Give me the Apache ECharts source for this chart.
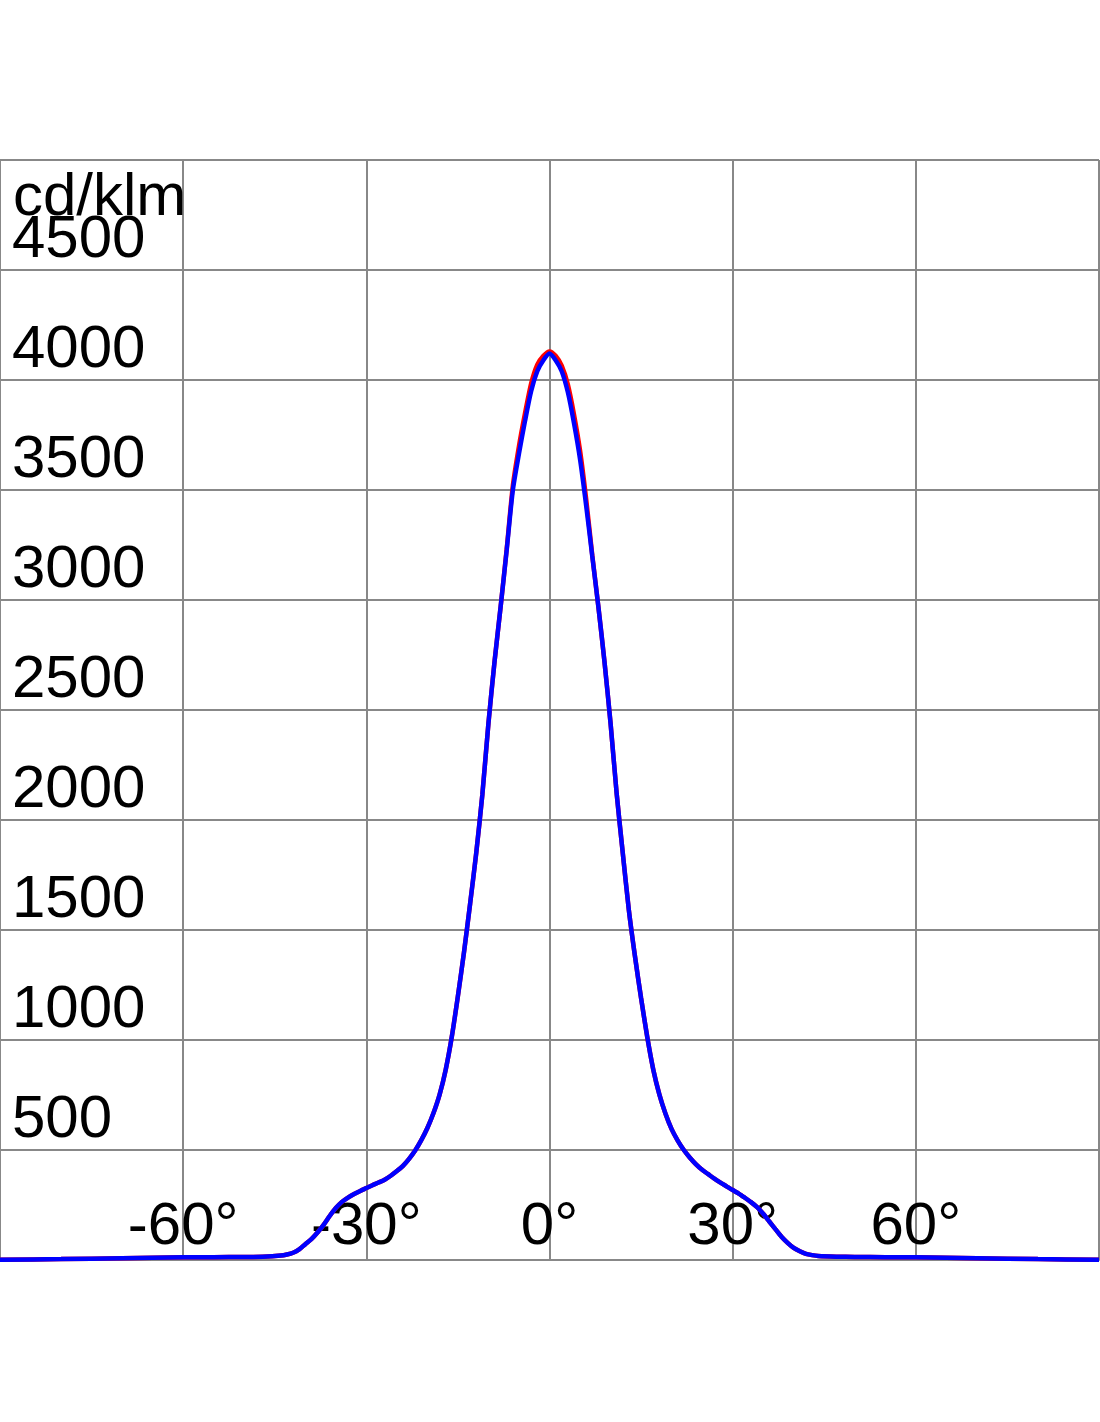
<!DOCTYPE html>
<html>
<head>
<meta charset="utf-8">
<style>
  html, body { margin: 0; padding: 0; background: #fff; }
  #chart { width: 1100px; height: 1422px; }
</style>
<script src="https://cdn.jsdelivr.net/npm/echarts@6/dist/echarts.min.js"></script>
</head>
<body>
<div id="chart"></div>
<script>
// Angles (degrees)
const angles = [-90,-80,-70,-60,-55,-50,-47,
  -44,-43,-42,-41,-40,-39,-38,-37,-36,-35,-34,-33,-32,-31,-30,-29,-28,-27,-26,-25,
  -24,-23,-22,-21,-20,-19,-18,-17,-16,-15,-14,-13,-12,-11,-10,-9,-8,-7,-6,-5,-4,-3,-2,-1,
  0,1,2,3,4,5,6,7,8,9,10,11,12,13,14,15,16,17,18,19,20,21,22,23,24,
  25,26,27,28,29,30,31,32,33,34,35,36,37,38,39,40,41,42,43,44,
  47,50,55,60,70,80,90];

// Blue curve (cd/klm)
const blueValues = [1,4,8,12,13,14,15,
  20,25,33,48,72,95,125,160,200,236,264,284,300,314,327,340,352,365,383,404,
  428,460,498,545,600,668,752,865,1015,1200,1400,1620,1850,2115,2440,2720,2970,3230,3500,3665,3815,3950,4040,4090,
  4120,4090,4040,3945,3805,3640,3430,3200,2970,2720,2440,2120,1850,1590,1380,1190,1015,865,752,665,595,543,500,465,435,
  410,390,370,352,335,318,302,283,263,240,210,175,140,106,78,55,40,28,22,18,
  15,14,13,12,8,4,1];

// Red curve (cd/klm)
const redValues = [1,4,8,12,13,14,15,
  20,25,33,48,72,95,125,160,200,236,264,284,300,314,327,340,352,365,383,404,
  428,460,498,545,600,668,752,865,1015,1200,1400,1620,1850,2115,2440,2720,2970,3235,3520,3700,3850,3985,4070,4110,
  4130,4110,4065,3980,3845,3680,3460,3205,2970,2720,2440,2120,1850,1590,1380,1190,1015,865,752,665,595,543,500,465,435,
  410,390,370,352,335,318,302,283,263,240,210,175,140,106,78,55,40,28,22,18,
  15,14,13,12,8,4,1];

const xTicks = { min: -90, max: 90, interval: 30 };
const yTicks = { min: 0, max: 5000, interval: 500 };
const unitLabel = 'cd/klm';

const toPairs = vals => angles.map((a, i) => [a, vals[i]]);

const font = "'Liberation Sans', Arial, sans-serif";
const gridColor = '#888888';

const chart = echarts.init(document.getElementById('chart'), null, { renderer: 'canvas' });
chart.setOption({
  animation: false,
  backgroundColor: '#ffffff',
  title: {
    text: unitLabel,
    left: 8,
    top: 163,
    textStyle: { fontSize: 60, fontWeight: 'normal', color: '#000', fontFamily: font }
  },
  grid: { left: 0, right: 1, top: 160, bottom: 162, containLabel: false, outerBoundsMode: 'none' },
  xAxis: {
    type: 'value',
    min: xTicks.min, max: xTicks.max, interval: xTicks.interval,
    axisLine: { show: true, lineStyle: { color: gridColor, width: 2 } },
    axisTick: { show: false },
    splitLine: { show: true, lineStyle: { color: gridColor, width: 2 } },
    axisLabel: {
      inside: true, margin: 3, verticalAlign: 'bottom',
      fontSize: 60, color: '#000', fontFamily: font,
      formatter: v => (Math.abs(v) === 90 ? '' : v + '°')
    }
  },
  yAxis: {
    type: 'value',
    min: yTicks.min, max: yTicks.max, interval: yTicks.interval,
    axisLine: { show: true, lineStyle: { color: gridColor, width: 2 } },
    axisTick: { show: false },
    splitLine: { show: true, lineStyle: { color: gridColor, width: 2 } },
    axisLabel: {
      inside: true, margin: 12, align: 'left', verticalAlign: 'bottom',
      fontSize: 60, color: '#000', fontFamily: font,
      formatter: v => (v === 0 || v === 5000 ? '' : String(v))
    }
  },
  series: [
    {
      type: 'line', data: toPairs(redValues), symbol: 'none',
      smooth: 0.25,
      lineStyle: { color: '#ff0000', width: 4.5 }, z: 3
    },
    {
      type: 'line', data: toPairs(blueValues), symbol: 'none',
      smooth: 0.25,
      lineStyle: { color: '#0000ff', width: 4.5 }, z: 4
    }
  ]
});
</script>
</body>
</html>
